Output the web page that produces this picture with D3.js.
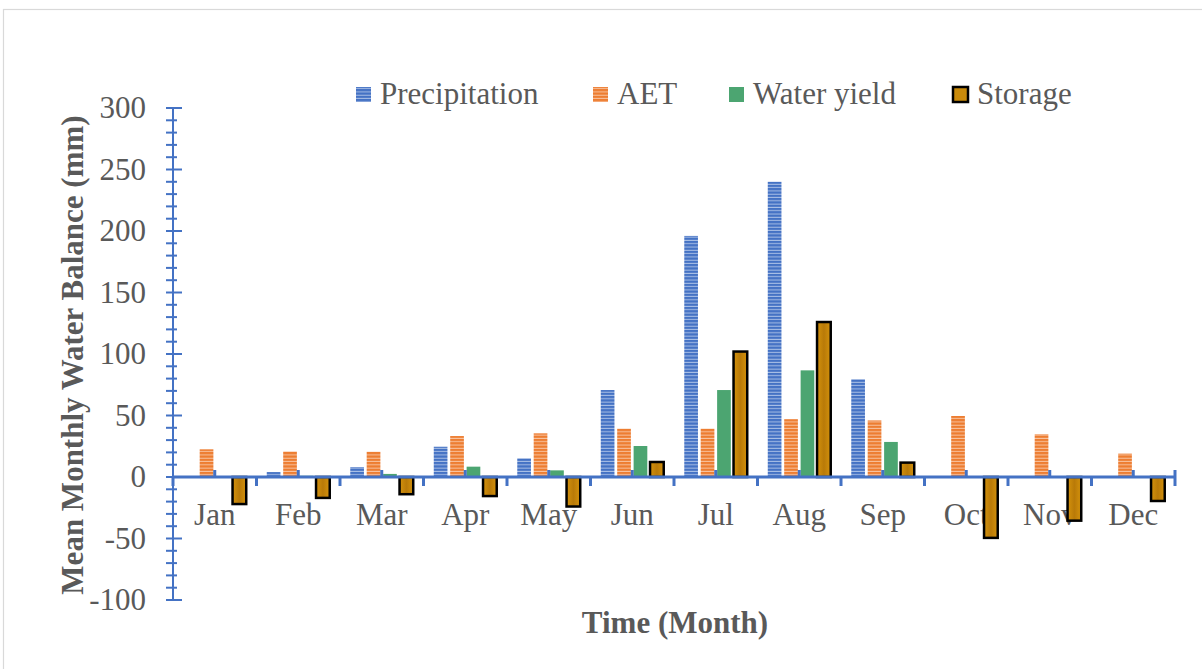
<!DOCTYPE html>
<html>
<head>
<meta charset="utf-8">
<script src="https://cdn.jsdelivr.net/npm/d3@7"></script>
<style>
  html, body { margin: 0; padding: 0; background: #fff; }
  svg { display: block; }
</style>
</head>
<body>
<svg id="chart" width="1202" height="669"></svg>
<script>
// Monthly water balance components (mm)
const months = ["Jan","Feb","Mar","Apr","May","Jun","Jul","Aug","Sep","Oct","Nov","Dec"];
const seriesNames = ["Precipitation","AET","Water yield","Storage"];
const precipitation = [0, 4, 8, 24.6, 15.2, 70.7, 196, 240, 79.4, 0, 0, 0];
const aet           = [22.5, 20.7, 20.5, 33.3, 35.5, 39.3, 39.3, 47, 46, 49.6, 34.7, 19];
const waterYield    = [0, 1, 2.5, 8.4, 5.4, 25.2, 70.7, 86.7, 28.5, 0, 0, 0];
const storage       = [-22, -17, -14, -15.5, -24, 12.2, 102, 126, 11.7, -49.5, -35.5, -19.5];
const yTicks = [-100, -50, 0, 50, 100, 150, 200, 250, 300];

const FONT = '"Liberation Serif", "Times New Roman", serif';
const TEXT_COLOR = "#595959";
const FS = 31;

const svg = d3.select("#chart");
const defs = svg.append("defs");

// striped fills for the two hatched series
function stripes(id, base, line) {
  const p = defs.append("pattern").attr("id", id)
    .attr("patternUnits", "userSpaceOnUse").attr("width", 8).attr("height", 3.3);
  p.append("rect").attr("width", 8).attr("height", 3.3).attr("fill", base);
  p.append("rect").attr("y", 2.3).attr("width", 8).attr("height", 1).attr("fill", line);
}
stripes("pPrecip", "#4472C4", "#A9BFE6");
stripes("pAet", "#ED7D31", "#F8C3A0");

const gStore = defs.append("linearGradient").attr("id", "gStore")
  .attr("x1", 0).attr("x2", 1).attr("y1", 0).attr("y2", 0);
gStore.append("stop").attr("offset", "0%").attr("stop-color", "#D4920C");
gStore.append("stop").attr("offset", "50%").attr("stop-color", "#B97A08");
gStore.append("stop").attr("offset", "100%").attr("stop-color", "#D4920C");

const fills = ["url(#pPrecip)", "url(#pAet)", "#4CA571", "url(#gStore)"];
const legendSwatch = ["url(#pPrecip)", "url(#pAet)", "#4CA571", "#C98A0A"];

// outer frame
svg.append("rect").attr("x", 3.5).attr("y", 9.5).attr("width", 1260).attr("height", 700)
  .attr("fill", "none").attr("stroke", "#D9D9D9").attr("stroke-width", 1.2);

const plotLeft = 173, plotRight = 1175, plotTop = 108, plotBottom = 600;
const y = d3.scaleLinear().domain([-100, 300]).range([plotBottom, plotTop]);
const x0 = d3.scaleBand().domain(months).range([plotLeft, plotRight]).padding(0);
const bw = x0.bandwidth();
const barW = bw / 6.1;               // bar width with 150% gap and 20% spacing
const x1 = i => 0.75 * barW + i * 1.2 * barW;

const axisColor = "#4472C4";

// month labels (drawn beneath the bars)
svg.append("g").selectAll("text").data(months).join("text")
  .attr("x", d => x0(d) + bw / 2).attr("y", 525)
  .attr("text-anchor", "middle")
  .attr("font-family", FONT).attr("font-size", FS).attr("fill", TEXT_COLOR)
  .text(d => d);

// y axis labels
const yAxis = svg.append("g").attr("transform", `translate(${plotLeft},0)`)
  .call(d3.axisLeft(y).tickValues(yTicks).tickFormat(d => String(d))
    .tickSize(0).tickPadding(27));
yAxis.select(".domain").remove();
yAxis.attr("font-family", FONT).attr("font-size", FS);
yAxis.selectAll("text").attr("fill", TEXT_COLOR);

// y axis line with major and minor ticks
const minor = d3.range(-100, 301, 10);
svg.append("g").selectAll("line").data(minor).join("line")
  .attr("x1", plotLeft - 7).attr("x2", d => d % 50 === 0 ? plotLeft + 9 : plotLeft + 4)
  .attr("y1", d => y(d)).attr("y2", d => y(d))
  .attr("stroke", axisColor).attr("stroke-width", 2);
svg.append("line").attr("x1", plotLeft).attr("x2", plotLeft)
  .attr("y1", plotTop - 1).attr("y2", plotBottom + 1)
  .attr("stroke", axisColor).attr("stroke-width", 2);

// bars
const series = [precipitation, aet, waterYield, storage];
series.forEach((vals, si) => {
  svg.append("g").selectAll("rect").data(vals).join("rect")
    .attr("x", (d, i) => x0(months[i]) + x1(si))
    .attr("width", barW)
    .attr("y", d => y(Math.max(0, d)))
    .attr("height", d => Math.abs(y(d) - y(0)))
    .attr("fill", fills[si])
    .attr("stroke", si === 3 ? "#000" : "none")
    .attr("stroke-width", si === 3 ? 2.5 : 0);
});

// x axis line with boundary and centre ticks
const y0 = y(0);
svg.append("line").attr("x1", plotLeft).attr("x2", plotRight).attr("y1", y0).attr("y2", y0)
  .attr("stroke", axisColor).attr("stroke-width", 3);
const bounds = d3.range(0, 13).map(k => plotLeft + k * bw);
svg.append("g").selectAll("line").data(bounds).join("line")
  .attr("x1", d => d).attr("x2", d => d)
  .attr("y1", (d, i) => i === 12 ? y0 - 7 : y0).attr("y2", y0 + 9)
  .attr("stroke", axisColor).attr("stroke-width", 3);
svg.append("g").selectAll("line").data(months).join("line")
  .attr("x1", d => x0(d) + bw / 2).attr("x2", d => x0(d) + bw / 2)
  .attr("y1", y0 - 7).attr("y2", y0)
  .attr("stroke", axisColor).attr("stroke-width", 3);

// axis titles
svg.append("text").attr("x", 675).attr("y", 633).attr("text-anchor", "middle")
  .attr("font-family", FONT).attr("font-size", FS).attr("font-weight", "bold")
  .attr("fill", TEXT_COLOR).text("Time (Month)");
svg.append("text").attr("transform", "translate(83,355) rotate(-90)")
  .attr("text-anchor", "middle")
  .attr("font-family", FONT).attr("font-size", FS).attr("font-weight", "bold")
  .attr("fill", TEXT_COLOR).text("Mean Monthly Water Balance (mm)");

// legend
const legendX = [356, 593, 729, 953];
const lg = svg.append("g").selectAll("g").data(seriesNames).join("g")
  .attr("transform", (d, i) => `translate(${legendX[i]},0)`);
lg.append("rect").attr("x", 0).attr("y", 87).attr("width", 15).attr("height", 15)
  .attr("fill", (d, i) => legendSwatch[i])
  .attr("stroke", (d, i) => i === 3 ? "#000" : "none").attr("stroke-width", 2.5);
lg.append("text").attr("x", 24).attr("y", 104)
  .attr("font-family", FONT).attr("font-size", FS).attr("fill", TEXT_COLOR)
  .text(d => d);
</script>
</body>
</html>
